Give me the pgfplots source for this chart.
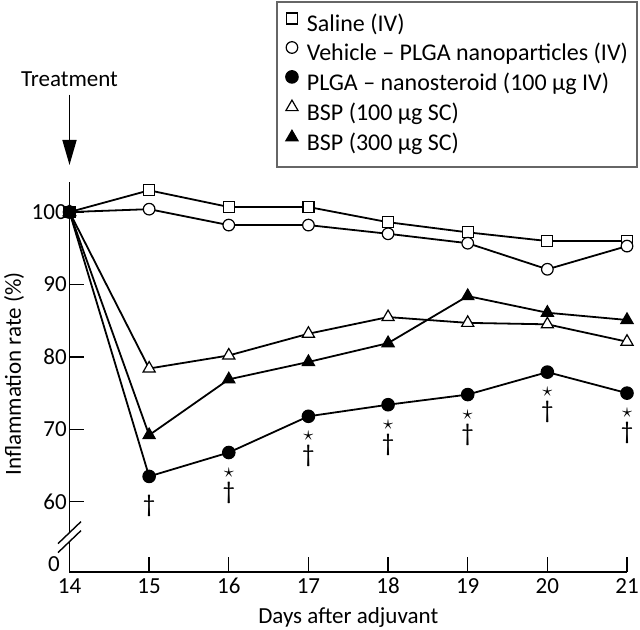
\documentclass[border=0pt]{standalone}
\usepackage{fontspec}
\setmainfont{Carlito}
\usepackage{pgfplots}
\pgfplotsset{compat=1.18}
\usetikzlibrary{arrows.meta}
\newcommand\lbl{\fontsize{11.5}{13}\selectfont}
\newcommand\leg{\fontsize{12}{14}\selectfont}
\newcommand\dg{\fontsize{12.5}{14}\selectfont}
\begin{document}
\begin{tikzpicture}
\useasboundingbox (-34.75pt,-28.5pt) rectangle (285.25pt,286pt);
\begin{axis}[
    scale only axis,
    width=278.75pt, height=195pt,
    xmin=14, xmax=21, ymin=50.3, ymax=104.15,
    axis lines=left,
    axis line style={-, line width=0.7pt},
    xtick={14,...,21},
    ytick={60,70,...,100},
    tick align=inside,
    major tick length=7.5pt,
    tick style={black, line width=0.7pt},
    /pgf/number format/assume math mode=true,
    tick label style={font=\lbl},
    xticklabel style={anchor=base, yshift=-10.5pt},
    yticklabel style={anchor=east, inner xsep=0pt, xshift=-1.2pt},
    label style={font=\lbl},
    xlabel={Days after adjuvant},
    ylabel={Inflammation rate (\%)},
    xlabel style={at={(axis description cs:0.5,0)}, anchor=base, yshift=-25.5pt},
    ylabel style={at={(axis description cs:-0.0995,0.508)}, anchor=center},
    clip=false,
    every axis plot/.append style={black, line width=0.9pt},
    legend cell align=left,
    legend style={at={(1.0197,1.4641)}, anchor=north east,
        draw=black!60, line width=1pt,
        inner xsep=4.5pt, inner ysep=5.5pt, row sep=2.4pt, column sep=0pt,
        font=\leg,
        nodes={inner sep=0pt, text height=8.5pt, text depth=2.5pt}},
    legend image code/.code={
        \path (-2pt,0pt) (7pt,0pt);
        \draw[#1] plot coordinates {(0pt,3.7pt)};},
]
\addplot[mark=square*, mark size=2.75pt, mark options={fill=white, line width=0.6pt}]
    coordinates {(14,100) (15,103.0) (16,100.7) (17,100.7) (18,98.6) (19,97.2) (20,96.0) (21,96.0)};
\addlegendentry{Saline (IV)}
\addplot[mark=*, mark size=2.9pt, mark options={fill=white, line width=0.6pt}]
    coordinates {(14,100) (15,100.4) (16,98.2) (17,98.2) (18,97.0) (19,95.7) (20,92.1) (21,95.3)};
\addlegendentry{Vehicle – PLGA nanoparticles (IV)}
\addplot[mark=*, mark size=3.1pt, mark options={fill=black, line width=0.6pt}]
    coordinates {(14,100) (15,63.5) (16,66.8) (17,71.8) (18,73.4) (19,74.8) (20,77.9) (21,75.0)};
\addlegendentry{PLGA – nanosteroid (100 µg IV)}
\addplot[mark=triangle*, mark size=3.5pt, mark options={fill=white, line width=0.6pt}]
    coordinates {(14,100) (15,78.4) (16,80.2) (17,83.2) (18,85.5) (19,84.7) (20,84.5) (21,82.1)};
\addlegendentry{BSP (100 µg SC)}
\addplot[mark=triangle*, mark size=3.5pt, mark options={fill=black, line width=0.6pt}]
    coordinates {(14,100) (15,69.2) (16,76.9) (17,79.3) (18,81.9) (19,88.4) (20,86.1) (21,85.1)};
\addlegendentry{BSP (300 µg SC)}

% significance marks under the nanosteroid curve
\node[font=\dg] at (axis cs:15,63.5) [yshift=-15pt] {\textdagger};
\node[font=\normalsize] at (axis cs:16,66.8) [yshift=-10pt] {$\star$};
\node[font=\dg] at (axis cs:16,66.8) [yshift=-20pt] {\textdagger};
\node[font=\normalsize] at (axis cs:17,71.8) [yshift=-10pt] {$\star$};
\node[font=\dg] at (axis cs:17,71.8) [yshift=-20pt] {\textdagger};
\node[font=\normalsize] at (axis cs:18,73.4) [yshift=-10pt] {$\star$};
\node[font=\dg] at (axis cs:18,73.4) [yshift=-20pt] {\textdagger};
\node[font=\normalsize] at (axis cs:19,74.8) [yshift=-10pt] {$\star$};
\node[font=\dg] at (axis cs:19,74.8) [yshift=-20pt] {\textdagger};
\node[font=\normalsize] at (axis cs:20,77.9) [yshift=-10pt] {$\star$};
\node[font=\dg] at (axis cs:20,77.9) [yshift=-20pt] {\textdagger};
\node[font=\normalsize] at (axis cs:21,75.0) [yshift=-10pt] {$\star$};
\node[font=\dg] at (axis cs:21,75.0) [yshift=-20pt] {\textdagger};

% treatment arrow
\node[font=\lbl, anchor=base] at (axis cs:14,117.4) {Treatment};
\draw[line width=0.8pt, -{Triangle[length=12.5pt, width=7pt]}] (axis cs:14,116.2) -- (axis cs:14,106.5);

\node[font=\lbl] at (axis cs:14,50.3) [xshift=-7.75pt, yshift=4pt] {0};
\coordinate (brA) at (axis cs:14,55.74);
\coordinate (brB) at (axis cs:14,54.5);
\end{axis}
% axis break
\fill[white] ([xshift=-1.5pt]brB) rectangle ([xshift=1.5pt]brA);
\draw[line width=0.7pt] ([shift={(-5.75pt,-5.5pt)}]brA) -- ([shift={(5.75pt,5.5pt)}]brA);
\draw[line width=0.7pt] ([shift={(-5.75pt,-5.5pt)}]brB) -- ([shift={(5.75pt,5.5pt)}]brB);
\end{tikzpicture}
\end{document}
